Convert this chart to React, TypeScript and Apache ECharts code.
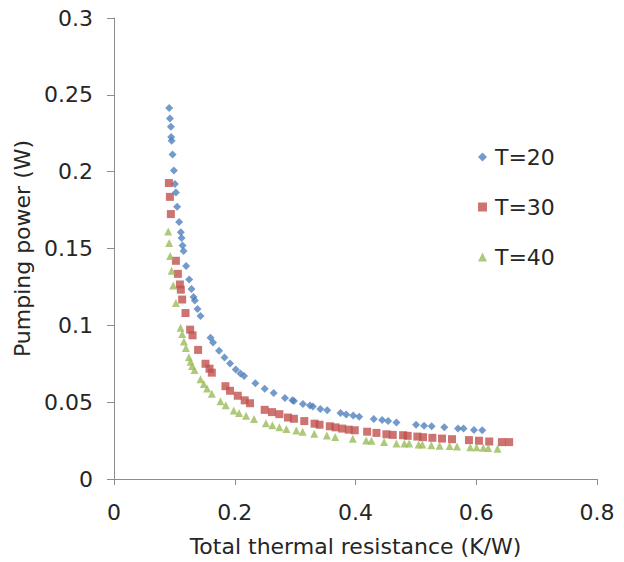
import React, { useEffect, useRef } from "react";
import * as echarts from "echarts";

const seriesNames = ["T=20", "T=30", "T=40"];

const t20X = [0.0914, 0.0926, 0.0942, 0.0947, 0.0954, 0.097, 0.0992, 0.1008, 0.1025, 0.1046, 0.1079, 0.1107, 0.1119, 0.1136, 0.1152, 0.1195, 0.1245, 0.1284, 0.1317, 0.1339, 0.1383, 0.1433, 0.1598, 0.1641, 0.174, 0.183, 0.1922, 0.2017, 0.2094, 0.2154, 0.2342, 0.2496, 0.2645, 0.2831, 0.2954, 0.298, 0.3129, 0.3245, 0.3294, 0.3417, 0.3532, 0.3752, 0.3846, 0.3962, 0.4061, 0.4302, 0.4441, 0.454, 0.4678, 0.5003, 0.5136, 0.5261, 0.5471, 0.5698, 0.579, 0.5962, 0.6099];
const t20Y = [0.2415, 0.2346, 0.2292, 0.2226, 0.2202, 0.2112, 0.2007, 0.192, 0.1864, 0.1772, 0.1673, 0.1605, 0.1568, 0.1519, 0.1483, 0.1386, 0.1298, 0.1236, 0.1184, 0.1161, 0.1107, 0.1061, 0.0919, 0.0889, 0.0834, 0.079, 0.0752, 0.0713, 0.0686, 0.067, 0.0623, 0.0587, 0.0559, 0.0527, 0.0512, 0.0508, 0.0488, 0.0478, 0.0471, 0.0456, 0.0448, 0.0429, 0.042, 0.0413, 0.0405, 0.039, 0.0384, 0.0377, 0.0368, 0.0353, 0.0347, 0.0343, 0.0336, 0.0328, 0.0328, 0.0319, 0.0317];

const t30X = [0.0909, 0.0926, 0.0942, 0.1025, 0.1058, 0.1091, 0.1107, 0.1129, 0.1185, 0.1261, 0.1301, 0.1393, 0.1516, 0.1582, 0.162, 0.1846, 0.1922, 0.205, 0.2165, 0.2253, 0.2496, 0.2617, 0.2739, 0.2881, 0.298, 0.3152, 0.3322, 0.3405, 0.3575, 0.3669, 0.378, 0.3889, 0.3988, 0.4193, 0.4347, 0.4512, 0.4617, 0.4788, 0.4864, 0.5025, 0.5119, 0.5273, 0.5433, 0.5598, 0.5879, 0.6045, 0.6215, 0.6425, 0.6545];
const t30Y = [0.1926, 0.1836, 0.1724, 0.142, 0.1335, 0.1266, 0.1232, 0.1168, 0.108, 0.0972, 0.0935, 0.084, 0.075, 0.0718, 0.0692, 0.0604, 0.0574, 0.0542, 0.0512, 0.0493, 0.045, 0.0435, 0.0422, 0.04, 0.0392, 0.0377, 0.036, 0.0353, 0.0343, 0.0336, 0.0328, 0.0321, 0.0317, 0.0308, 0.03, 0.0291, 0.0287, 0.0285, 0.0281, 0.0276, 0.0272, 0.0268, 0.0263, 0.0259, 0.0253, 0.0249, 0.0244, 0.024, 0.024];

const t40X = [0.0898, 0.0914, 0.0931, 0.0954, 0.098, 0.1025, 0.1102, 0.1129, 0.1157, 0.119, 0.124, 0.1268, 0.1294, 0.1334, 0.1433, 0.1488, 0.1542, 0.162, 0.1764, 0.1851, 0.1983, 0.2071, 0.2187, 0.2319, 0.2517, 0.2623, 0.2739, 0.2855, 0.302, 0.3124, 0.3317, 0.3526, 0.3664, 0.3955, 0.4177, 0.4264, 0.4474, 0.4678, 0.481, 0.4888, 0.5046, 0.5107, 0.5256, 0.5393, 0.5559, 0.5681, 0.5901, 0.6005, 0.6116, 0.6198, 0.6352];
const t40Y = [0.1611, 0.1536, 0.1451, 0.1356, 0.126, 0.1146, 0.0985, 0.0943, 0.0895, 0.0853, 0.0792, 0.0763, 0.0735, 0.0709, 0.0649, 0.0619, 0.0589, 0.0555, 0.0506, 0.048, 0.0445, 0.0429, 0.0411, 0.039, 0.0362, 0.0349, 0.0336, 0.0326, 0.0315, 0.0307, 0.0294, 0.0283, 0.0274, 0.0262, 0.0251, 0.0249, 0.024, 0.0231, 0.0231, 0.0231, 0.0225, 0.0225, 0.0219, 0.0217, 0.0214, 0.0212, 0.0206, 0.0206, 0.0204, 0.0201, 0.0197];

const xTicks = [0, 0.2, 0.4, 0.6, 0.8];
const yTicks = [0, 0.05, 0.1, 0.15, 0.2, 0.25, 0.3];

const FONT = "DejaVu Sans";
const TEXT = "#262626";
const FS = 22;

const zip = (xs: number[], ys: number[]) => xs.map((x, i) => [x, ys[i]]);

export default function App() {
  const ref = useRef<HTMLDivElement>(null);
  useEffect(() => {
    if (!ref.current) return;
    const chart = echarts.init(ref.current, null, { renderer: "svg" });
    const axisLine = { show: true, lineStyle: { color: "#8c8c8c", width: 1 } };
    chart.setOption({
      animation: false,
      backgroundColor: "#ffffff",
      textStyle: { fontFamily: FONT },
      grid: { left: 114, right: 27, top: 18, bottom: 78, containLabel: false },
      legend: {
        orient: "vertical",
        left: 473,
        top: 141,
        itemWidth: 9,
        itemHeight: 9,
        itemGap: 28,
        textStyle: { fontFamily: FONT, fontSize: FS, color: TEXT, lineHeight: 22, padding: [0, 0, 0, 3] },
        data: seriesNames,
      },
      xAxis: {
        type: "value",
        min: xTicks[0],
        max: xTicks[xTicks.length - 1],
        interval: 0.2,
        name: "Total thermal resistance (K/W)",
        nameLocation: "middle",
        nameGap: 56,
        nameTextStyle: { fontFamily: FONT, fontSize: FS, color: TEXT },
        axisLine,
        axisTick: { show: true, length: 6, lineStyle: { color: "#8c8c8c" } },
        axisLabel: { fontFamily: FONT, fontSize: FS, color: TEXT, margin: 22 },
        splitLine: { show: false },
      },
      yAxis: {
        type: "value",
        min: yTicks[0],
        max: yTicks[yTicks.length - 1],
        interval: 0.05,
        name: "Pumping power (W)",
        nameLocation: "middle",
        nameGap: 79,
        nameTextStyle: { fontFamily: FONT, fontSize: FS, color: TEXT },
        axisLine,
        axisTick: { show: true, length: 7, lineStyle: { color: "#8c8c8c" } },
        axisLabel: { fontFamily: FONT, fontSize: FS, color: TEXT, margin: 21 },
        splitLine: { show: false },
      },
      series: [
        {
          name: seriesNames[0],
          type: "scatter",
          symbol: "diamond",
          symbolSize: 8,
          itemStyle: { color: "#4F81BD" },
          data: zip(t20X, t20Y),
        },
        {
          name: seriesNames[1],
          type: "scatter",
          symbol: "rect",
          symbolSize: 8,
          itemStyle: { color: "#C0504D" },
          data: zip(t30X, t30Y),
        },
        {
          name: seriesNames[2],
          type: "scatter",
          symbol: "triangle",
          symbolSize: 8,
          itemStyle: { color: "#9BBB59" },
          data: zip(t40X, t40Y),
        },
      ],
    });
    return () => chart.dispose();
  }, []);
  return <div ref={ref} style={{ width: 624, height: 562, position: "absolute", left: 0, top: 0 }} />;
}
